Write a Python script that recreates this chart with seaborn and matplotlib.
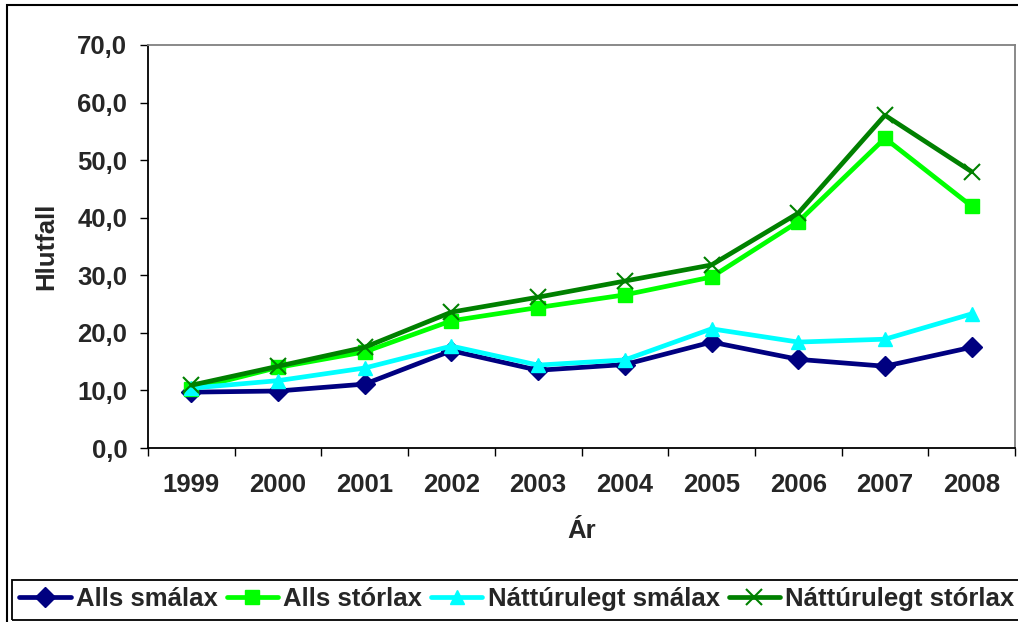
import numpy as np
import pandas as pd
import matplotlib
matplotlib.use('Agg')
import matplotlib.pyplot as plt
import seaborn as sns
from matplotlib.patches import Rectangle
from matplotlib.ticker import FuncFormatter, FixedLocator

years = [1999, 2000, 2001, 2002, 2003, 2004, 2005, 2006, 2007, 2008]
alls_smalax = [9.7, 9.9, 11.1, 16.9, 13.5, 14.5, 18.4, 15.4, 14.2, 17.5]
alls_storlax = [10.2, 14.0, 16.7, 22.1, 24.4, 26.6, 29.7, 39.3, 53.8, 42.0]
natt_smalax = [10.4, 11.7, 13.9, 17.7, 14.4, 15.3, 20.7, 18.4, 18.9, 23.3]
natt_storlax = [10.9, 14.2, 17.5, 23.6, 26.2, 29.0, 31.8, 40.8, 57.8, 48.0]

series_names = ['Alls smálax', 'Alls stórlax', 'Náttúrulegt smálax', 'Náttúrulegt stórlax']
series_values = [alls_smalax, alls_storlax, natt_smalax, natt_storlax]
colors = ['#000080', '#00FF00', '#00FFFF', '#008000']
marker_list = ['D', 's', '^', 'x']

sns.set_style('white')
plt.rcParams['font.family'] = ['Liberation Sans', 'DejaVu Sans']
plt.rcParams['font.weight'] = 'bold'
fs = 18.5

fig = plt.figure(figsize=(10.18, 6.22), dpi=100)
ax = fig.add_axes([148 / 1018, 1 - 448 / 622, 867 / 1018, 403 / 622])

for name, vals, col, mk in zip(series_names, series_values, colors, marker_list):
    df = pd.DataFrame({'Ár': years, 'Hlutfall': vals})
    if mk == 'x':
        sns.lineplot(data=df, x='Ár', y='Hlutfall', color=col, marker=mk, markersize=12,
                     markeredgewidth=1.5, markeredgecolor=col, linewidth=3.4, label=name, ax=ax)
    else:
        sns.lineplot(data=df, x='Ár', y='Hlutfall', color=col, marker=mk, markersize=10,
                     markeredgewidth=1, markeredgecolor=col, linewidth=3.4, label=name, ax=ax)

handles, labels = ax.get_legend_handles_labels()
ax.get_legend().remove()

ax.set_xlim(1998.5, 2008.5)
ax.set_ylim(0, 70)
ax.set_yticks(np.arange(0, 71, 10))
ax.yaxis.set_major_formatter(FuncFormatter(lambda v, p: f'{v:.1f}'.replace('.', ',')))
ax.set_xticks(years)
ax.set_xticklabels([str(y) for y in years])
ax.xaxis.set_minor_locator(FixedLocator(np.arange(1998.5, 2009, 1)))
ax.tick_params(axis='x', which='major', length=0, pad=18, labelsize=fs)
ax.tick_params(axis='x', which='minor', length=6, width=1, direction='out', color='black', bottom=True)
ax.tick_params(axis='y', length=6, width=1, direction='out', color='black', pad=9, labelsize=fs, left=True)
for lab in ax.get_xticklabels() + ax.get_yticklabels():
    lab.set_fontweight('bold')

ax.set_xlabel('Ár', fontsize=fs, fontweight='bold')
ax.set_ylabel('Hlutfall', fontsize=fs, fontweight='bold')
ax.xaxis.set_label_coords(0.5, (448 - 519) / 403)
ax.yaxis.set_label_coords((58 - 148) / 867, 0.5)

for s in ['left', 'bottom']:
    ax.spines[s].set_color('black')
    ax.spines[s].set_linewidth(1.3)
for s in ['top', 'right']:
    ax.spines[s].set_color('#808080')
    ax.spines[s].set_linewidth(1.3)
ax.grid(False)

leg = fig.legend(handles, labels, loc='center left', ncol=4,
                 bbox_to_anchor=(14 / 1018, 1 - 599 / 622),
                 prop={'family': 'Liberation Sans', 'weight': 'bold', 'size': fs},
                 frameon=False, handlelength=2.0, handletextpad=0.2, columnspacing=0.35,
                 borderpad=0.2, borderaxespad=0)

# legend box runs off the right edge, as in the source
fig.add_artist(Rectangle((12 / 1018, 2 / 622), 1.1, 40 / 622, transform=fig.transFigure,
                         fill=False, edgecolor='black', linewidth=1.3))
fig.add_artist(Rectangle((7 / 1018, -0.1), 1.2, 1.1 - 5 / 622, transform=fig.transFigure,
                         fill=False, edgecolor='black', linewidth=1.5))

fig.savefig('out.png', dpi=100, facecolor='white')
